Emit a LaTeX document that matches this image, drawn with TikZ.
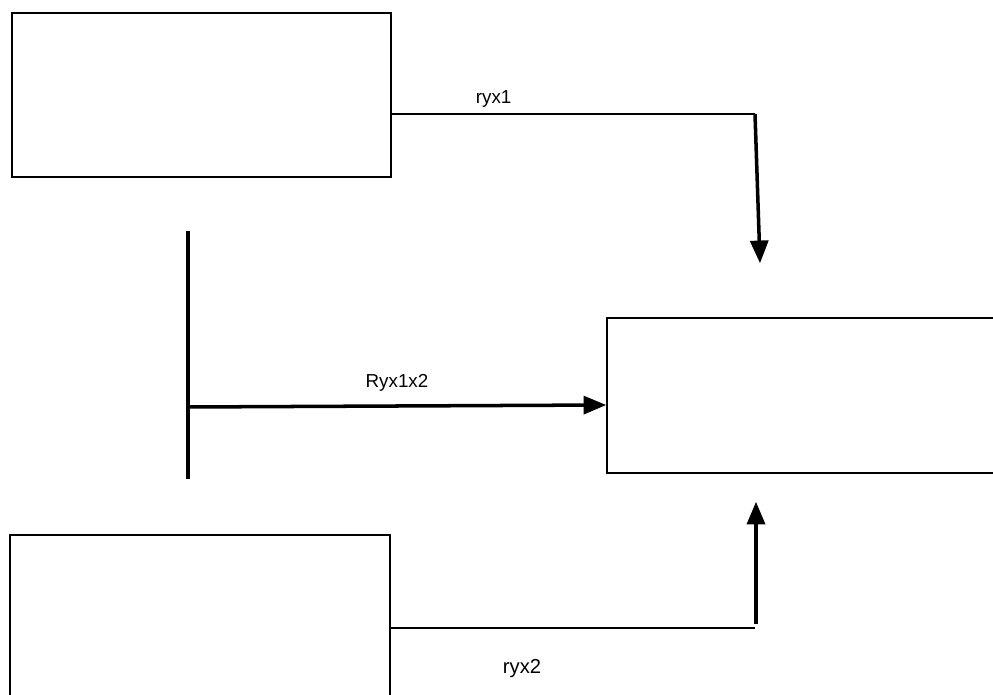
\documentclass[tikz,border=0pt]{standalone}
\usepackage{fontspec}
\setmainfont{Liberation Sans}
\usetikzlibrary{arrows}
\usetikzlibrary{positioning}

\begin{document}
\begin{tikzpicture}[x=0.02cm,y=-0.02cm,>=triangle 45,
                    block/.style={rectangle,draw,line width=1.2pt,inner sep=0pt},
                    thin line/.style={line width=0.7pt},
                    thick line/.style={line width=2pt},
                    lbl/.style={font=\fontsize{10.7}{12}\selectfont}]
  \useasboundingbox (0,0) rectangle (993,695);

  \node[block,minimum width=7.58cm,minimum height=3.28cm] (x1) at (201.5,95) {};
  \node[block,minimum width=7.6cm,minimum height=3.5cm] (x2) at (200,622.5) {};
  \node[block,minimum width=8cm,minimum height=3.1cm] (y) at (807,395.5) {};

  \coordinate (c1) at (755,114);
  \coordinate (t1) at (760,263);
  \coordinate (c2) at (755,628);
  \coordinate (b2) at (756,624);
  \coordinate (t2) at (756,502);
  \coordinate (bartop) at (188,231);
  \coordinate (barbot) at (188,479);
  \coordinate (r) at (188,407);
  \coordinate (rin) at (607,405);

  % direct paths
  \draw[thin line] (x1.east |- c1) -- node[lbl,pos=0.28,above=0pt] {ryx1} (c1);
  \draw[thick line,->] (c1) -- (t1);
  \draw[thin line] (x2.east |- c2) -- node[lbl,font=\fontsize{11.5}{13}\selectfont,pos=0.36,below=14pt] {ryx2} (c2);
  \draw[thick line,->] (b2) -- (t2);

  % joint path
  \draw[thick line] (bartop) -- (barbot);
  \draw[thick line,->] (r) -- node[lbl,midway,above=4pt] {Ryx1x2} (y.west |- rin);
\end{tikzpicture}
\end{document}
